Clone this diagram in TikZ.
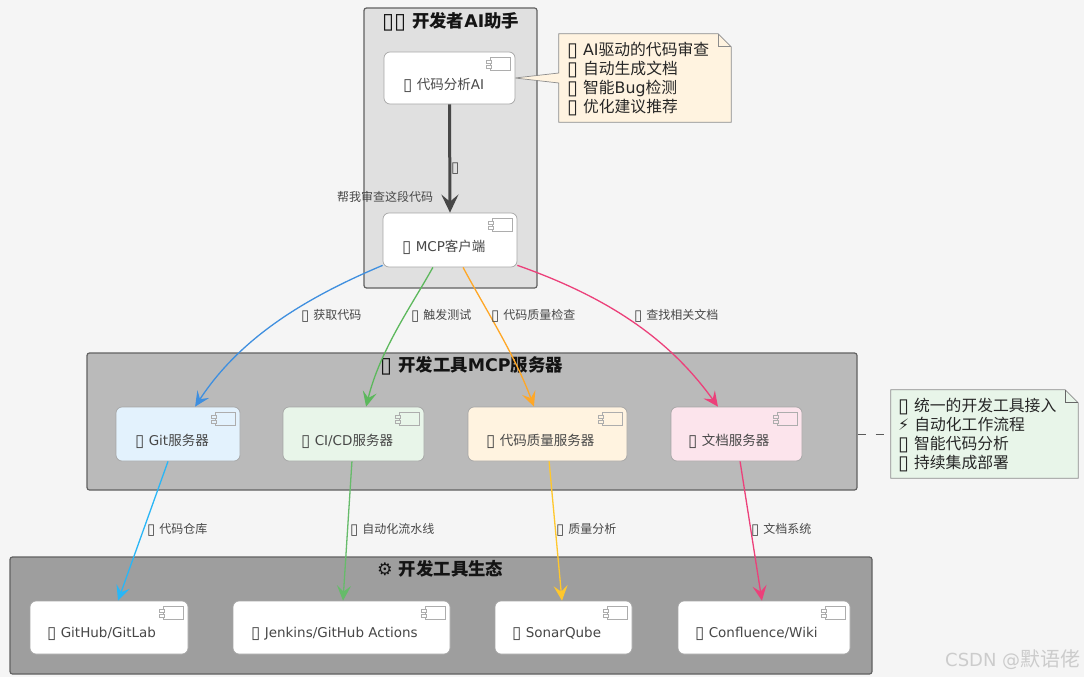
\documentclass[tikz,border=0pt]{standalone}
\usepackage{graphicx}
\usepackage{fontspec}
\setmainfont{DejaVu Sans}
\newfontfamily\cjk{Noto Sans CJK SC}
\usetikzlibrary{arrows.meta,calc}
\newcommand{\zh}[1]{{\cjk #1}}
\newcommand{\tf}{\raisebox{-.08em}{\scalebox{1.25}{▯}}}
\definecolor{bgc}{HTML}{F5F5F5}
\definecolor{edgeblue}{HTML}{3F8FDF}
\definecolor{edgegreen}{HTML}{5CB85C}
\definecolor{edgeorange}{HTML}{FFA726}
\definecolor{edgepink}{HTML}{EC407A}
\definecolor{edgesky}{HTML}{29B6F6}
\definecolor{edgelgreen}{HTML}{66BB6A}
\definecolor{edgeyellow}{HTML}{FFC72C}
\definecolor{fillblue}{HTML}{E3F2FD}
\definecolor{fillgreen}{HTML}{E8F5E9}
\definecolor{fillorange}{HTML}{FFF3E0}
\definecolor{fillpink}{HTML}{FCE4EC}
\tikzset{
  groupbox/.style={draw=black!62,line width=1.2pt,rounded corners=2.5pt,inner sep=0pt},
  compbox/.style={draw=black!35,line width=.7pt,rounded corners=6pt,inner sep=0pt},
  lbl/.style={anchor=west,inner sep=0pt,text=black!72,font=\fontsize{13.5}{16}\selectfont},
  edgelbl/.style={anchor=west,inner sep=0pt,text=black!72,font=\fontsize{12}{14}\selectfont},
  grouptitle/.style={anchor=west,inner sep=0pt,text=black!92,font=\fontsize{17.4}{20}\selectfont\bfseries},
  notetext/.style={anchor=west,inner sep=0pt,align=left,text=black!85,font=\fontsize{15.8}{19}\selectfont},
  flow/.style={line width=1.3pt,-{Stealth[length=15pt,width=14pt,inset=6pt]}},
  iconline/.style={draw=black!32,line width=.7pt},
  noteline/.style={draw=black!45,line width=.7pt},
}
% name, x1, y1, x2, y2, fill
\newcommand{\boxat}[6]{%
  \node[compbox,fill=#6,minimum width=#4pt-#2pt,minimum height=#5pt-#3pt] (#1) at ({(#2+#4)/2},{(#3+#5)/2}) {};
  \draw[iconline] ($(#1.north east)+(-25,6)$) rectangle ($(#1.north east)+(-5,19)$);
  \draw[iconline,fill=#6] ($(#1.north east)+(-29,9)$) rectangle ($(#1.north east)+(-24,12)$);
  \draw[iconline,fill=#6] ($(#1.north east)+(-29,14)$) rectangle ($(#1.north east)+(-24,17)$);
}
\newcommand{\alongtop}[2]{($(#1.north west)!#2!(#1.north east)$)}
\newcommand{\alongbot}[2]{($(#1.south west)!#2!(#1.south east)$)}
\begin{document}
\begin{tikzpicture}[x=1pt,y=-1pt]
\useasboundingbox (0,0) rectangle (1087,677);
\fill[white] (0,0) rectangle (1087,677);
\fill[bgc] (0,0) rectangle (1084,677);

% groups
\node[groupbox,fill=black!12,minimum width=173pt,minimum height=280pt] (g1) at (450.5,148) {};
\node[groupbox,fill=black!27,minimum width=770pt,minimum height=137pt] (g2) at (472,421.5) {};
\node[groupbox,fill=black!38,minimum width=862pt,minimum height=117pt] (g3) at (441,615.5) {};

\node[grouptitle] (t1) at (382,22) {\tf\tf\ \zh{开发者}AI\zh{助手}};
\node[grouptitle] (t2) at (380,366) {\tf\ \zh{开发工具}MCP\zh{服务器}};
\node[grouptitle] (t3) at (377,569) {⚙\ \zh{开发工具生态}};

% notes
\node[inner sep=0pt,minimum width=172pt,minimum height=88pt] (n1) at (645,78) {};
\draw[noteline,fill=fillorange]
  (n1.north west) -- ($(n1.north east)+(-13,0)$) -- ($(n1.north east)+(0,13)$) -- (n1.south east) -- (n1.south west) -- ($(n1.west)+(0,5)$) -- (515,78) -- ($(n1.west)+(0,-5)$) -- cycle;
\draw[noteline] ($(n1.north east)+(-13,0)$) -- ($(n1.north east)+(-13,13)$) -- ($(n1.north east)+(0,13)$);
\node[notetext] (n1t) at (567,79) {\tf\ AI\zh{驱动的代码审查}\\\tf\ \zh{自动生成文档}\\\tf\ \zh{智能}Bug\zh{检测}\\\tf\ \zh{优化建议推荐}};

\node[inner sep=0pt,minimum width=187pt,minimum height=88pt] (n2) at (984.5,434) {};
\draw[noteline,fill=fillgreen]
  (n2.north west) -- ($(n2.north east)+(-13,0)$) -- ($(n2.north east)+(0,13)$) -- (n2.south east) -- (n2.south west) -- cycle;
\draw[draw=black!60,line width=.7pt] ($(n2.north east)+(-13,0)$) -- ($(n2.north east)+(-13,13)$) -- ($(n2.north east)+(0,13)$);
\node[notetext] (n2t) at (898,435) {\tf\ \zh{统一的开发工具接入}\\⚡\ \zh{自动化工作流程}\\\tf\ \zh{智能代码分析}\\\tf\ \zh{持续集成部署}};
\draw[draw=black!65,line width=.7pt,dash pattern=on 8pt off 10pt] (g2.east |- n2.west) -- (n2.west);

% components
\boxat{ai}{384}{52}{515}{104}{white}
\boxat{mcp}{383}{213}{517}{267}{white}
\boxat{git}{116}{407}{240}{461}{fillblue}
\boxat{ci}{283}{407}{424}{461}{fillgreen}
\boxat{qa}{468}{407}{627}{461}{fillorange}
\boxat{doc}{671}{407}{802}{461}{fillpink}
\boxat{hub}{30}{601}{188}{654}{white}
\boxat{jen}{233}{601}{450}{654}{white}
\boxat{son}{495}{601}{632}{654}{white}
\boxat{con}{678}{601}{850}{654}{white}

\node[lbl] (ait) at (403,85) {\tf\ \zh{代码分析}AI};
\node[lbl] (mcpt) at (402,247) {\tf\ MCP\zh{客户端}};
\node[lbl] (gitt) at (135,441) {\tf\ Git\zh{服务器}};
\node[lbl] (cit) at (301,441) {\tf\ CI/CD\zh{服务器}};
\node[lbl] (qat) at (486,441) {\tf\ \zh{代码质量服务器}};
\node[lbl] (doct) at (688,441) {\tf\ \zh{文档服务器}};
\node[lbl] (hubt) at (47,634) {\tf\ GitHub/GitLab};
\node[lbl] (jent) at (251,634) {\tf\ Jenkins/GitHub Actions};
\node[lbl] (sont) at (512,634) {\tf\ SonarQube};
\node[lbl] (cont) at (695,634) {\tf\ Confluence/Wiki};

% connectors
\draw[line width=3pt,draw=black!72,-{Stealth[length=18pt,width=17pt,inset=7pt]}] (ai.south) -- (mcp.north);
\draw[flow,draw=edgeblue] (mcp.south west) ++(0,-2) .. controls (305,298) and (240,338) .. \alongtop{git}{.637};
\draw[flow,draw=edgegreen] \alongbot{mcp}{.373} .. controls (412,305) and (380,350) .. \alongtop{ci}{.589};
\draw[flow,draw=edgeorange] \alongbot{mcp}{.597} .. controls (483,305) and (515,355) .. \alongtop{qa}{.415};
\draw[flow,draw=edgepink] (mcp.south east) ++(0,-2) .. controls (610,298) and (670,340) .. \alongtop{doc}{.359};
\draw[flow,draw=edgesky] \alongbot{git}{.42} -- \alongtop{hub}{.557};
\draw[flow,draw=edgelgreen] \alongbot{ci}{.489} -- \alongtop{jen}{.507};
\draw[flow,draw=edgeyellow] \alongbot{qa}{.51} -- \alongtop{son}{.489};
\draw[flow,draw=edgepink] \alongbot{doc}{.527} -- \alongtop{con}{.488};

% edge labels
\node[edgelbl] (e0a) at (451,169) {\tf};
\node[edgelbl] (e0b) at (337,196.5) {\zh{帮我审查这段代码}};
\node[edgelbl] (e1) at (301,316) {\tf\ \zh{获取代码}};
\node[edgelbl] (e2) at (411,316) {\tf\ \zh{触发测试}};
\node[edgelbl] (e3) at (491,316) {\tf\ \zh{代码质量检查}};
\node[edgelbl] (e4) at (634,316) {\tf\ \zh{查找相关文档}};
\node[edgelbl] (e5) at (147,530) {\tf\ \zh{代码仓库}};
\node[edgelbl] (e6) at (350,530) {\tf\ \zh{自动化流水线}};
\node[edgelbl] (e7) at (556,530) {\tf\ \zh{质量分析}};
\node[edgelbl] (e8) at (751,530) {\tf\ \zh{文档系统}};

% watermark
\node[anchor=west,inner sep=0pt,text=black!20,font=\fontsize{18}{20}\selectfont] (wm) at (945,660) {CSDN @{\fontsize{20}{20}\selectfont\zh{默语佬}}};
\end{tikzpicture}
\end{document}
